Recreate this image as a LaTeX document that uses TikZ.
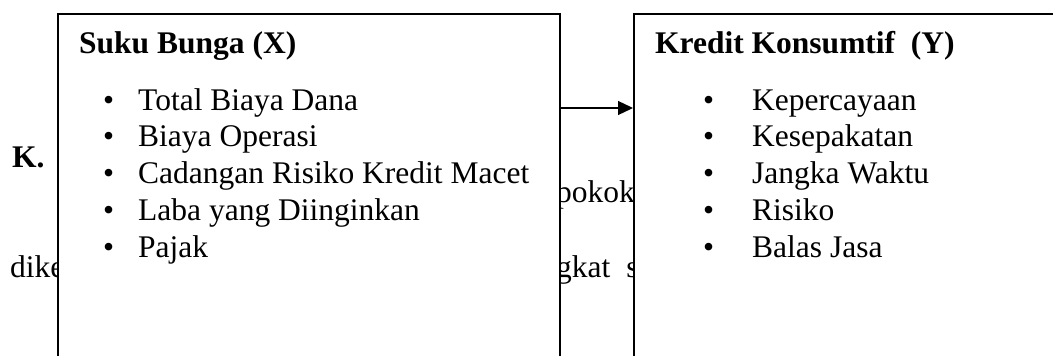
\documentclass[tikz,border=0pt]{standalone}
\usepackage{fontspec}
\setmainfont{Liberation Serif}
\usetikzlibrary{arrows.meta}
\tikzset{
  txt/.style={inner sep=0pt, anchor=base west, font=\fontsize{31.5}{36.75}\selectfont},
  varbox/.style={draw, fill=white, line width=2pt, inner sep=0pt},
  link/.style={line width=1.3pt, -{Triangle[length=15pt,width=14pt]}}
}
\newcommand{\itemlist}[2]{%
  \begin{tabular}[t]{@{}l@{}}#2\end{tabular}}
\begin{document}
\begin{tikzpicture}[x=1pt, y=-1pt]
  \useasboundingbox (0,0) rectangle (1053,356);
  \clip (0,0) rectangle (1053,356);

  % running text of the page behind the figure
  \node[txt, font=\fontsize{31.5}{36.75}\selectfont\bfseries] (k) at (12,167) {K.};
  \node[txt] (dike) at (10,277) {dike};
  \node[txt] (pokok) at (556,202) {pokok};
  \node[txt] (gkat) at (556,277) {gkat\hspace{16pt}s};

  % variable boxes
  \node[varbox, minimum width=502pt, minimum height=386pt] (L) at (309,207) {};
  \node[varbox, minimum width=486pt, minimum height=386pt] (R) at (877,207) {};

  % independent variable
  \node[txt, font=\fontsize{31.5}{36.75}\selectfont\bfseries] (Lt) at (79,53) {Suku Bunga (X)};
  \node[txt] (Li) at (103,110) {%
    \begin{tabular}[t]{@{}l@{}}
      \makebox[35pt][l]{•}Total Biaya Dana\\
      \makebox[35pt][l]{•}Biaya Operasi\\
      \makebox[35pt][l]{•}Cadangan Risiko Kredit Macet\\
      \makebox[35pt][l]{•}Laba yang Diinginkan\\
      \makebox[35pt][l]{•}Pajak
    \end{tabular}};

  % dependent variable
  \node[txt, font=\fontsize{31.5}{36.75}\selectfont\bfseries] (Rt) at (655,53) {Kredit Konsumtif\ \ (Y)};
  \node[txt] (Ri) at (703,110) {%
    \begin{tabular}[t]{@{}l@{}}
      \makebox[49pt][l]{•}Kepercayaan\\
      \makebox[49pt][l]{•}Kesepakatan\\
      \makebox[49pt][l]{•}Jangka Waktu\\
      \makebox[49pt][l]{•}Risiko\\
      \makebox[49pt][l]{•}Balas Jasa
    \end{tabular}};

  % influence of X on Y
  \draw[link] (L.north east |- 0,108) -- (R.north west |- 0,108);
\end{tikzpicture}
\end{document}
